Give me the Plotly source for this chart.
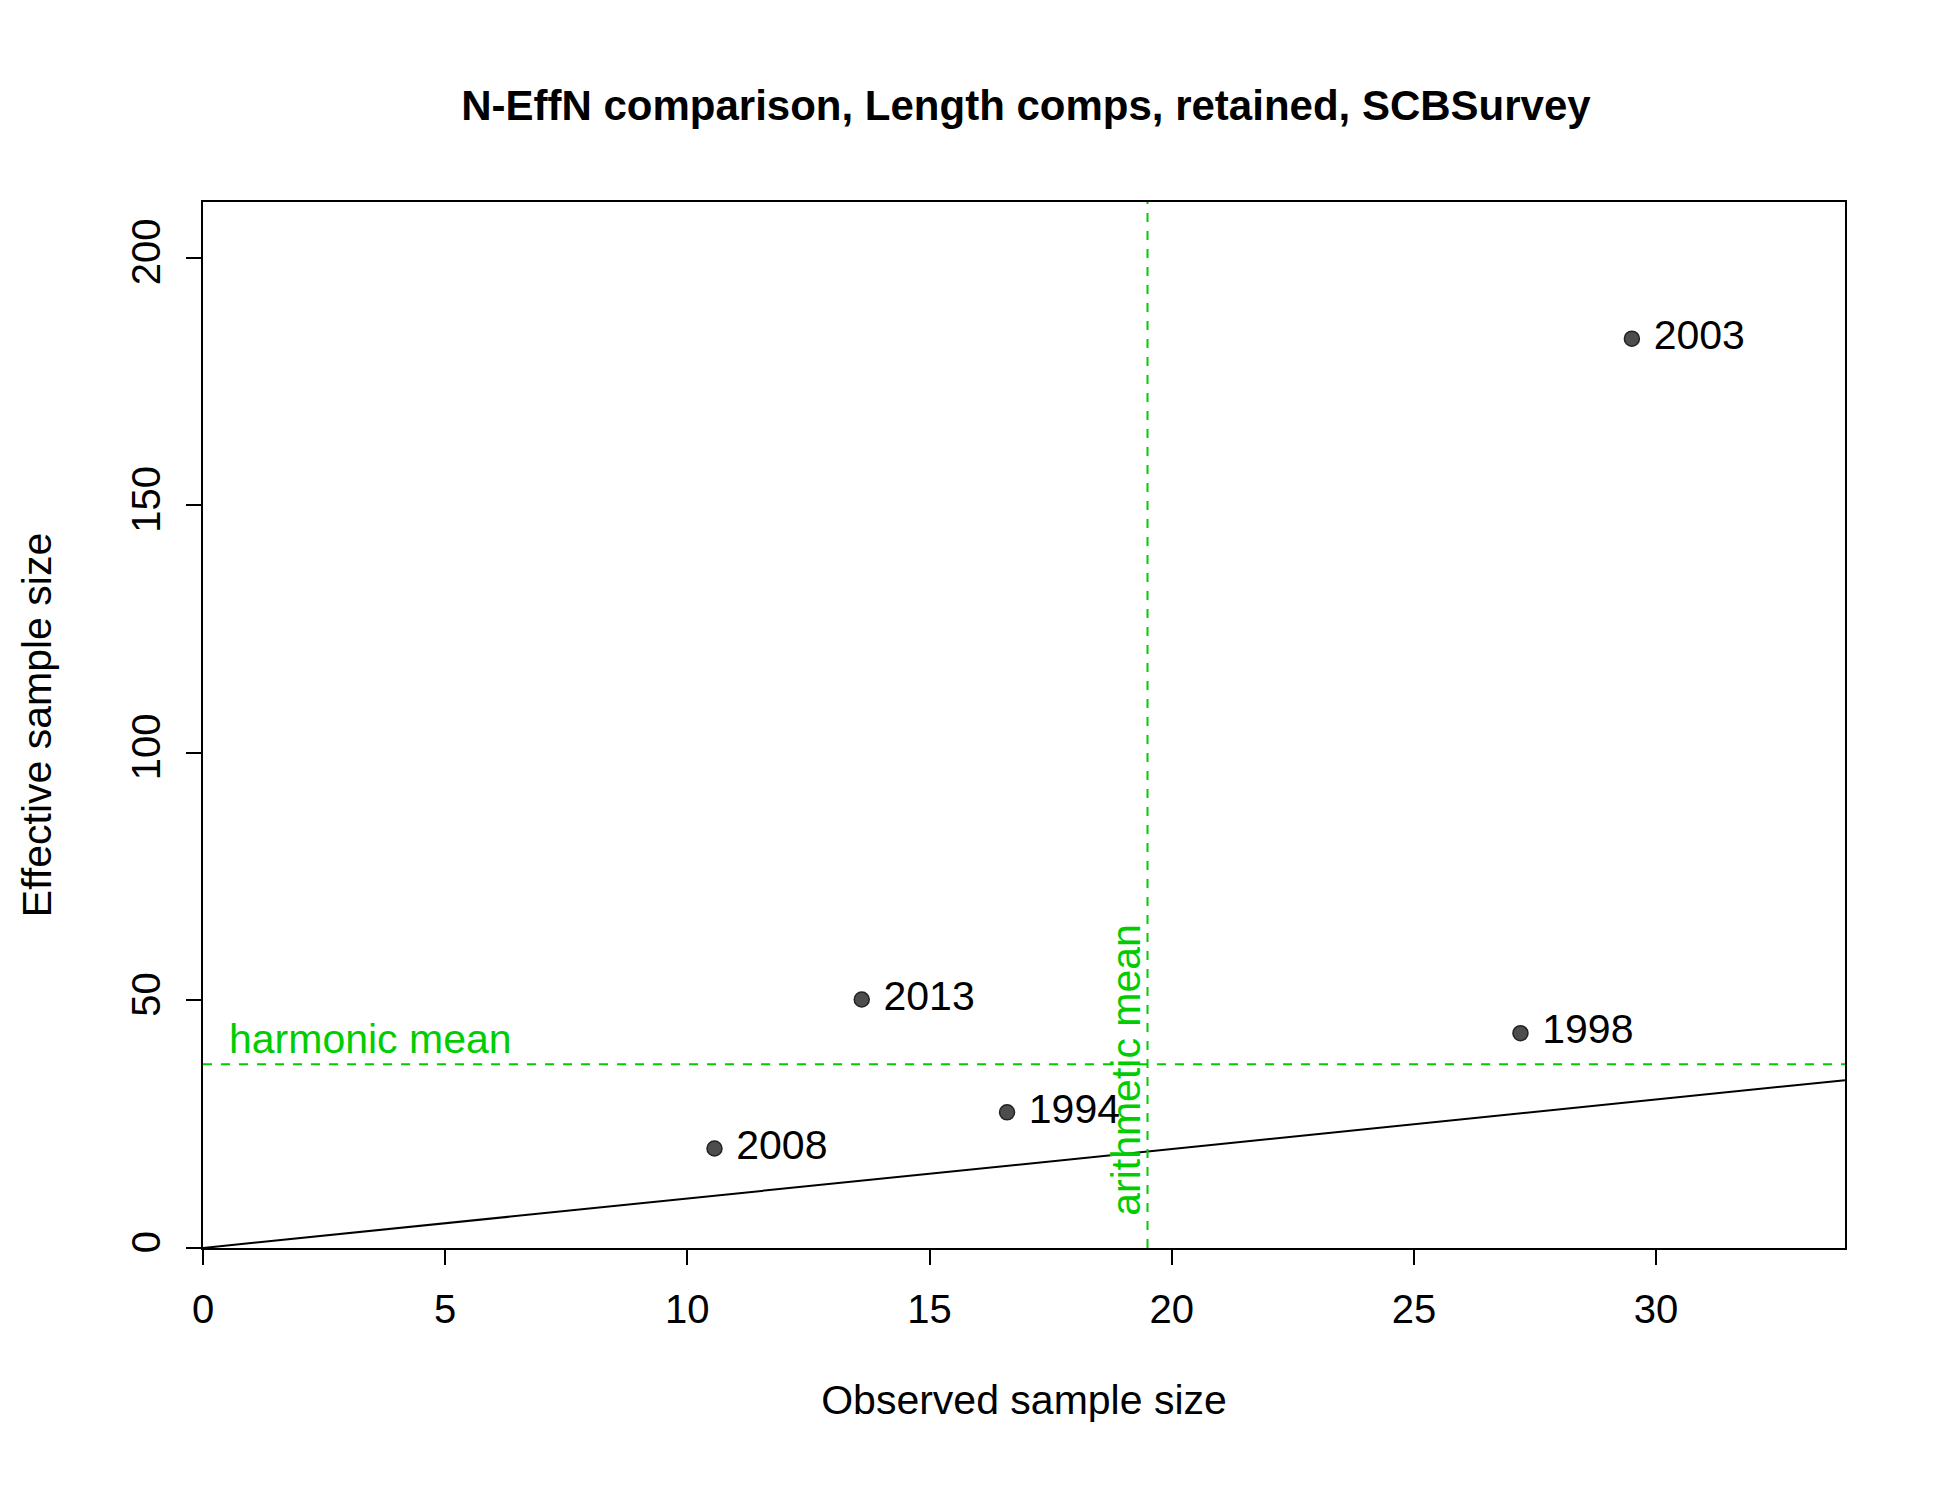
import plotly.graph_objects as go

years = ["1994", "1998", "2003", "2008", "2013"]
obs_n = [16.6, 27.2, 29.5, 10.56, 13.6]
eff_n = [27.4, 43.4, 183.7, 20.1, 50.2]
harmonic_mean = 37.1
arithmetic_mean = 19.5
x_max = 33.9
y_max = 211.3

green = "#00CD00"
font = "Liberation Sans, Arial, sans-serif"

fig = go.Figure()
fig.add_trace(go.Scatter(x=[0, x_max], y=[0, x_max], mode="lines",
                         line=dict(color="black", width=2), showlegend=False))
fig.add_trace(go.Scatter(x=obs_n, y=eff_n, mode="markers+text",
                         text=[" " + y for y in years],
                         textposition="middle right",
                         textfont=dict(size=41, color="black", family=font),
                         marker=dict(color="#4D4D4D", size=15,
                                     line=dict(color="#222", width=1.5)),
                         showlegend=False))

fig.add_shape(type="line", x0=0, x1=x_max, y0=harmonic_mean, y1=harmonic_mean,
              line=dict(color=green, width=2, dash="dash"))
fig.add_shape(type="line", x0=arithmetic_mean, x1=arithmetic_mean, y0=0, y1=y_max,
              line=dict(color=green, width=2, dash="dash"))
fig.add_annotation(x=0.5, y=harmonic_mean, text="harmonic mean", showarrow=False,
                   xanchor="left", yanchor="bottom",
                   font=dict(size=41, color=green, family=font))
fig.add_annotation(x=arithmetic_mean, y=6, text="arithmetic mean", showarrow=False,
                   textangle=-90, xanchor="right", yanchor="bottom", xshift=4,
                   font=dict(size=41, color=green, family=font))

axis = dict(showgrid=False, zeroline=False, showline=True, mirror=True,
            linecolor="black", linewidth=2, ticks="outside", ticklen=15,
            tickwidth=2, tickcolor="black", ticklabelstandoff=10,
            tickfont=dict(size=40, color="black", family=font))
fig.update_xaxes(axis, range=[0, x_max], tickvals=[0, 5, 10, 15, 20, 25, 30],
                 title=dict(text="Observed sample size", standoff=55,
                            font=dict(size=41, color="black", family=font)))
fig.update_yaxes(axis, range=[0, y_max], tickvals=[0, 50, 100, 150, 200],
                 tickangle=-90,
                 title=dict(text="Effective sample size", standoff=60,
                            font=dict(size=41, color="black", family=font)))

fig.update_layout(
    width=1950, height=1500,
    margin=dict(l=195, r=113, t=194, b=260),
    plot_bgcolor="white", paper_bgcolor="white",
    title=dict(text="<b>N-EffN comparison, Length comps, retained, SCBSurvey</b>",
               x=0.522, xanchor="center", y=0.945,
               font=dict(size=42, color="black", family=font)),
)

fig.write_html("out.html")
